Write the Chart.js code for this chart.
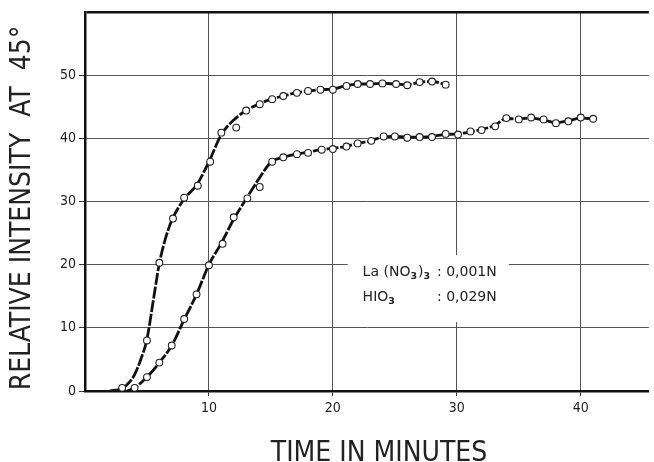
<!DOCTYPE html>
<html>
<head>
<meta charset="utf-8">
<script src="https://cdn.jsdelivr.net/npm/chart.js@4.4.1/dist/chart.umd.min.js"></script>
<style>
  html, body { margin: 0; padding: 0; background: #fff; }
  #wrap { width: 654px; height: 462px; }
</style>
</head>
<body>
<div id="wrap"><canvas id="grafico" width="654" height="462"></canvas></div>
<script>
// measured points (open circles)
const tempoA = [3.0, 5.0, 6.0, 7.1, 8.0, 9.1, 10.1, 11.0, 12.2, 13.0, 14.1, 15.1, 16.0, 17.1, 18.0, 19.0, 20.0, 21.1, 22.0, 23.0, 24.0, 25.1, 26.0, 27.0, 28.0, 29.1];
const intensA = [0.5, 8.0, 20.3, 27.3, 30.6, 32.5, 36.3, 40.9, 41.7, 44.4, 45.4, 46.2, 46.7, 47.2, 47.5, 47.7, 47.7, 48.3, 48.6, 48.6, 48.7, 48.6, 48.4, 48.9, 49.0, 48.5];

const tempoB = [4.0, 5.0, 6.0, 7.0, 8.0, 9.0, 10.0, 11.1, 12.0, 13.1, 14.1, 15.1, 16.0, 17.1, 18.0, 19.1, 20.0, 21.1, 22.0, 23.1, 24.1, 25.0, 26.0, 27.0, 28.0, 29.1, 30.1, 31.1, 32.0, 33.1, 34.0, 35.0, 36.0, 37.0, 38.0, 39.0, 40.0, 41.0];
const intensB = [0.5, 2.2, 4.5, 7.2, 11.4, 15.3, 19.9, 23.3, 27.5, 30.5, 32.3, 36.3, 37.0, 37.5, 37.7, 38.2, 38.3, 38.7, 39.2, 39.6, 40.3, 40.3, 40.1, 40.2, 40.2, 40.7, 40.6, 41.1, 41.3, 41.9, 43.2, 43.0, 43.3, 43.0, 42.4, 42.7, 43.3, 43.1];

// hand drawn curves
const curvaAx = [2.0, 3.0, 3.5, 4.0, 4.5, 5.0, 5.5, 6.0, 6.5, 7.0, 8.0, 9.0, 10.0, 11.0, 12.0, 13.0, 14.0, 15.0, 16.0, 17.0, 18.0, 19.0, 20.0, 21.0, 22.0, 23.0, 24.0, 25.0, 26.0, 27.0, 28.0, 29.1];
const curvaAy = [0.0, 0.4, 1.2, 2.6, 5.0, 8.2, 14.2, 20.2, 24.2, 27.0, 30.4, 32.6, 36.3, 40.6, 42.9, 44.4, 45.4, 46.2, 46.7, 47.2, 47.5, 47.7, 47.8, 48.3, 48.6, 48.6, 48.7, 48.6, 48.5, 48.9, 49.0, 48.5];

const curvaBx = [3.4, 4.0, 5.0, 6.0, 7.0, 8.0, 9.0, 10.0, 11.0, 12.0, 13.0, 14.0, 15.0, 16.0, 17.0, 18.0, 19.0, 20.0, 21.0, 22.0, 23.0, 24.0, 25.0, 26.0, 27.0, 28.0, 29.0, 30.0, 31.0, 32.0, 33.0, 34.0, 35.0, 36.0, 37.0, 38.0, 39.0, 40.0, 41.0];
const curvaBy = [0.0, 0.5, 2.2, 4.5, 7.2, 11.3, 15.3, 20.0, 23.4, 27.2, 30.4, 33.5, 36.2, 37.0, 37.5, 37.8, 38.2, 38.4, 38.7, 39.2, 39.6, 40.2, 40.3, 40.2, 40.2, 40.3, 40.6, 40.7, 41.0, 41.4, 42.0, 43.1, 43.1, 43.2, 42.9, 42.5, 42.8, 43.2, 43.1];

const ticksX = [10, 20, 30, 40];
const ticksY = [0, 10, 20, 30, 40, 50, 60];

const tituloX = 'TIME IN MINUTES';
const tituloY = 'RELATIVE INTENSITY  AT  45°';
// "_3" = subscript 3
const legenda = [['La (NO_3)_3', ': 0,001N'], ['HIO_3', ': 0,029N']];

const fonteCond = "'DejaVu Sans Condensed', 'Liberation Sans Narrow', 'DejaVu Sans', sans-serif";
const fonteNota = "'DejaVu Sans', sans-serif";

function pares(xs, ys) {
    return xs.map((x, i) => ({x: x, y: ys[i]}));
}

function textoComIndice(ctx, texto, x, y) {
    const partes = texto.split(/_(\d)/);
    partes.forEach((p, i) => {
        if (!p) return;
        if (i % 2 === 1) {
            ctx.font = "bold 9.5px " + fonteNota;
            ctx.fillText(p, x, y + 3);
        } else {
            ctx.font = "14px " + fonteNota;
            ctx.fillText(p, x, y);
        }
        x += ctx.measureText(p).width + (i % 2 === 1 ? 1 : 0);
    });
}

const pluginTextos = {
    id: 'textos',
    beforeDatasetsDraw(chart) {
        const ctx = chart.ctx;
        const sx = chart.scales.x, sy = chart.scales.y;
        // white box behind the note (breaks the grid lines)
        const x0 = sx.getPixelForValue(21.2), x1 = sx.getPixelForValue(34.2);
        const y0 = sy.getPixelForValue(21.5), y1 = sy.getPixelForValue(10.9);
        ctx.save();
        ctx.fillStyle = '#fff';
        ctx.fillRect(x0, y0, x1 - x0, y1 - y0);
        ctx.fillStyle = '#222';
        ctx.textBaseline = 'alphabetic';
        const xa = sx.getPixelForValue(22.4), xb = sx.getPixelForValue(28.4);
        legenda.forEach((l, i) => {
            const yy = sy.getPixelForValue(i === 0 ? 18.2 : 14.3);
            textoComIndice(ctx, l[0], xa, yy);
            textoComIndice(ctx, l[1], xb, yy);
        });
        ctx.restore();
    },
    afterDraw(chart) {
        const ctx = chart.ctx;
        ctx.save();
        ctx.fillStyle = '#222';
        ctx.textAlign = 'center';
        ctx.textBaseline = 'alphabetic';
        ctx.font = "28px " + fonteCond;
        ctx.fillText(tituloX, 379, 461);
        ctx.translate(30, 208);
        ctx.rotate(-Math.PI / 2);
        ctx.fillText(tituloY, 0, 0);
        ctx.restore();
    }
};

const ctx = document.getElementById('grafico').getContext('2d');

new Chart(ctx, {
    type: 'scatter',
    data: {
        datasets: [
            {data: pares(tempoA, intensA), order: 0, pointRadius: 3.4, pointBackgroundColor: '#fff', pointBorderColor: '#222', pointBorderWidth: 1.1, showLine: false},
            {data: pares(tempoB, intensB), order: 0, pointRadius: 3.4, pointBackgroundColor: '#fff', pointBorderColor: '#222', pointBorderWidth: 1.1, showLine: false},
            {data: pares(curvaAx, curvaAy), order: 1, showLine: true, pointRadius: 0, borderColor: '#111', borderWidth: 2.8, borderDash: [12, 1.8], cubicInterpolationMode: 'monotone'},
            {data: pares(curvaBx, curvaBy), order: 1, showLine: true, pointRadius: 0, borderColor: '#111', borderWidth: 2.8, borderDash: [12, 1.8], cubicInterpolationMode: 'monotone'}
        ]
    },
    options: {
        responsive: false,
        devicePixelRatio: 1,
        animation: false,
        events: [],
        layout: { padding: { top: 12, right: 0, bottom: 0, left: 0 } },
        plugins: { legend: { display: false }, tooltip: { enabled: false } },
        scales: {
            x: {
                type: 'linear',
                min: 0,
                max: 45.5,
                afterBuildTicks: s => { s.ticks = ticksX.map(v => ({value: v})); },
                afterFit: s => { s.height = 71; },
                grid: { color: '#555', lineWidth: 1, tickLength: 5, tickColor: '#333' },
                border: { color: '#111', width: 2.5 },
                ticks: { color: '#222', padding: 4, font: { family: fonteCond, size: 14 } }
            },
            y: {
                type: 'linear',
                min: 0,
                max: 60,
                afterBuildTicks: s => { s.ticks = ticksY.map(v => ({value: v})); },
                afterFit: s => { s.width = 85; },
                grid: {
                    color: c => c.tick && c.tick.value === 60 ? '#111' : '#555',
                    lineWidth: c => c.tick && c.tick.value === 60 ? 2.5 : 1,
                    tickColor: c => c.tick && c.tick.value === 60 ? 'rgba(0,0,0,0)' : '#333',
                    tickLength: 6
                },
                border: { color: '#111', width: 2.5 },
                ticks: {
                    color: '#222',
                    padding: 3,
                    font: { family: fonteCond, size: 14 },
                    callback: v => v === 60 ? '' : v
                }
            }
        }
    },
    plugins: [pluginTextos]
});
</script>
</body>
</html>
